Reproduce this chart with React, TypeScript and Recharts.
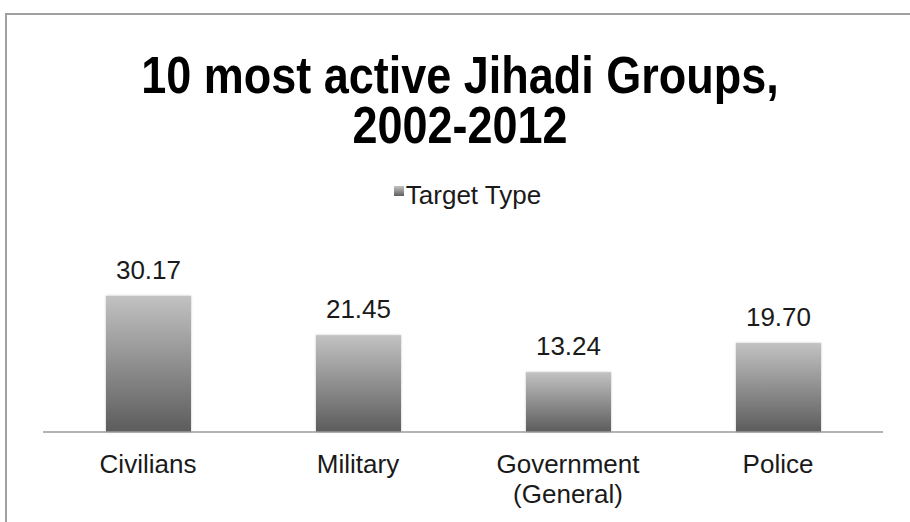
import React from "react";
import { BarChart, Bar, XAxis, YAxis, Legend, LabelList } from "recharts";

const categories = ["Civilians", "Military", "Government (General)", "Police"];
const targetType = [30.17, 21.45, 13.24, 19.7];
const seriesName = "Target Type";
const titleLines = ["10 most active Jihadi Groups,", "2002-2012"];

const data = categories.map((c, i) => ({ category: c, value: targetType[i] }));

const FONT = '"Liberation Sans", Arial, Helvetica, sans-serif';

const CategoryTick = (props: any) => {
  const { x, y, payload } = props;
  const text: string = payload.value;
  const idx = text.indexOf(" (");
  const lines = idx >= 0 ? [text.slice(0, idx), text.slice(idx + 1)] : [text];
  return (
    <text x={x} y={y + 33} textAnchor="middle" fontFamily={FONT} fontSize={26} fill="#1a1a1a">
      {lines.map((l, i) => (
        <tspan key={i} x={x} dy={i === 0 ? 0 : 30}>
          {l}
        </tspan>
      ))}
    </text>
  );
};

const BarShape = (props: any) => {
  const { x, y, width, height } = props;
  if (!height || height <= 0) return null;
  return (
    <rect x={x} y={y} width={width} height={height} fill="url(#barGrad)" filter="url(#barShadow)" />
  );
};

const LegendContent = () => (
  <div
    style={{
      display: "flex",
      justifyContent: "center",
      alignItems: "flex-start",
      fontFamily: FONT,
      fontSize: 26,
      lineHeight: "30px",
      color: "#1a1a1a",
    }}
  >
    <span
      style={{
        display: "inline-block",
        width: 10,
        height: 10,
        marginTop: 6,
        marginRight: 2,
        background: "linear-gradient(#c4c4c4, #5e5e5e)",
      }}
    />
    <span>{seriesName}</span>
  </div>
);

const TITLE_SCALE = 1.17;

export default function App() {
  return (
    <div style={{ position: "absolute", left: 0, top: 0, width: 910, height: 522, overflow: "hidden", background: "#fff" }}>
      <div
        style={{
          position: "absolute",
          left: 5,
          top: 13,
          width: 1000,
          height: 1000,
          borderTop: "2px solid #a0a0a0",
          borderLeft: "2px solid #a0a0a0",
        }}
      />
      <svg width={910} height={170} style={{ position: "absolute", left: 0, top: 0 }}>
        <text
          transform={`translate(460, 93) scale(1, ${TITLE_SCALE})`}
          textAnchor="middle"
          fontFamily={FONT}
          fontWeight="bold"
          fontSize={45}
          fill="#000"
        >
          {titleLines.map((t, i) => (
            <tspan key={i} x={0} dy={i === 0 ? 0 : 50 / TITLE_SCALE}>
              {t}
            </tspan>
          ))}
        </text>
      </svg>
      <div style={{ position: "absolute", left: 0, top: 0 }}>
        <BarChart
          width={910}
          height={522}
          data={data}
          margin={{ top: 274, right: 27, bottom: 0, left: 43 }}
          barCategoryGap="30%"
        >
          <defs>
            <linearGradient id="barGrad" x1="0" y1="0" x2="0" y2="1">
              <stop offset="0%" stopColor="#c2c2c2" />
              <stop offset="100%" stopColor="#5c5c5c" />
            </linearGradient>
            <filter id="barShadow" x="-10%" y="-10%" width="120%" height="120%">
              <feDropShadow dx="0" dy="0" stdDeviation="1.2" floodColor="#000" floodOpacity="0.25" />
            </filter>
          </defs>
          <XAxis
            dataKey="category"
            height={90}
            axisLine={{ stroke: "#9a9a9a", strokeWidth: 1.5 }}
            tickLine={false}
            tick={<CategoryTick />}
            interval={0}
          />
          <YAxis hide domain={[0, 35]} />
          <Legend
            verticalAlign="middle"
            align="center"
            layout="horizontal"
            content={<LegendContent />}
            wrapperStyle={{ top: 180, left: 0, width: 935 }}
          />
          <Bar
            dataKey="value"
            name={seriesName}
            barSize={85}
            shape={<BarShape />}
            isAnimationActive={false}
          >
            <LabelList
              dataKey="value"
              position="top"
              offset={17}
              formatter={(v: any) => Number(v).toFixed(2)}
              style={{ fontFamily: FONT, fontSize: 26, fill: "#1a1a1a" }}
            />
          </Bar>
        </BarChart>
      </div>
    </div>
  );
}
